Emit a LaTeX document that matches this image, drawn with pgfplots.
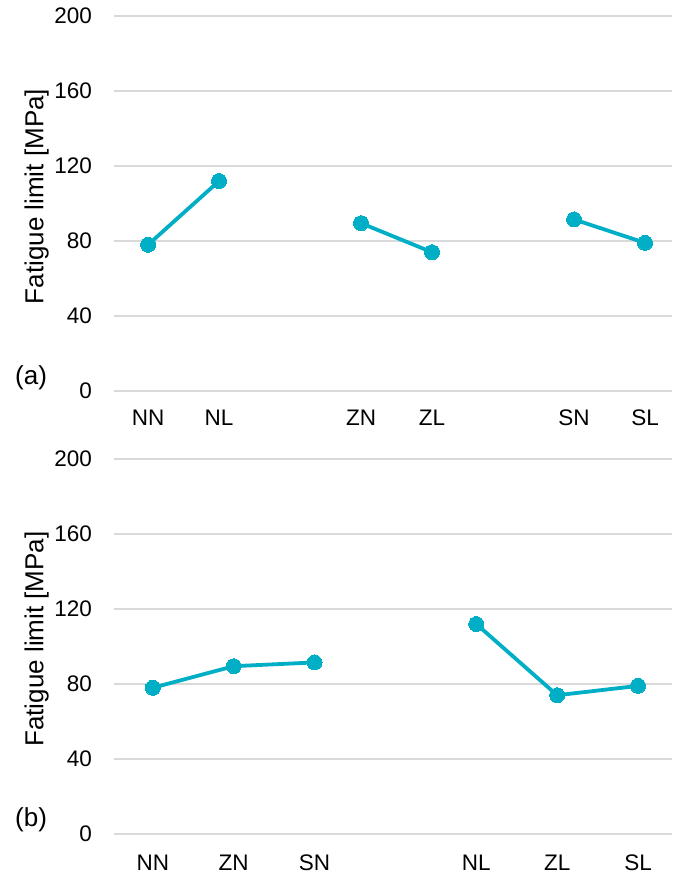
\documentclass[border=0pt]{standalone}
\usepackage{pgfplots}
\pgfplotsset{compat=1.18}
\usepackage{fontspec}
\setmainfont{Liberation Sans}
\definecolor{teal1}{RGB}{0,174,198}
\definecolor{gridc}{RGB}{217,217,217}
\pgfplotsset{
  panel/.style={
    scale only axis, width=558pt, height=375pt, anchor=south west,
    ymin=0, ymax=200, ytick={0,40,80,120,160,200},
    axis line style={draw=none}, major tick length=0pt,
    ymajorgrids, grid style={color=gridc, line width=1.3pt},
    clip=false,
    /pgf/number format/assume math mode=true,
    tick label style={font=\fontsize{22.5}{27}\selectfont, inner sep=0pt},
    yticklabel style={anchor=east, xshift=-22pt},
    xticklabel style={anchor=north, yshift=-19pt},
    ylabel={Fatigue limit [MPa]},
  },
  ser/.style={color=teal1, line width=3.8pt, mark=*, mark size=7.5pt, mark options={fill=teal1, draw=teal1, line width=0pt}},
}
\begin{document}
\begin{tikzpicture}[x=1pt,y=1pt]
\path (0,0) rectangle (672,875);
% Panel (a)
\begin{axis}[panel, at={(114pt,484pt)},
  xmin=-0.48, xmax=7.38,
  xtick={0,1,3,4,6,7}, xticklabels={NN,NL,ZN,ZL,SN,SL},
  every axis y label/.style={at={(axis description cs:-0.1267,0.5187)}, rotate=90, anchor=base, font=\fontsize{26}{31}\selectfont, inner sep=0pt},
]
\addplot[ser] coordinates {(0,78) (1,112)};
\addplot[ser] coordinates {(3,89.5) (4,74)};
\addplot[ser] coordinates {(6,91.5) (7,79)};
\node[anchor=west, inner sep=0pt, font=\fontsize{26}{31}\selectfont] at (axis description cs:-0.1774,0.0347) {(a)};
\end{axis}
% Panel (b)
\begin{axis}[panel, at={(114pt,41pt)},
  xmin=-0.48, xmax=6.42,
  xtick={0,1,2,4,5,6}, xticklabels={NN,ZN,SN,NL,ZL,SL},
  xticklabel style={yshift=-2pt},
  every axis y label/.style={at={(axis description cs:-0.1267,0.52)}, rotate=90, anchor=base, font=\fontsize{26}{31}\selectfont, inner sep=0pt},
]
\addplot[ser] coordinates {(0,78) (1,89.5) (2,91.5)};
\addplot[ser] coordinates {(4,112) (5,74) (6,79)};
\node[anchor=west, inner sep=0pt, font=\fontsize{26}{31}\selectfont] at (axis description cs:-0.1774,0.0373) {(b)};
\end{axis}
\end{tikzpicture}
\end{document}
